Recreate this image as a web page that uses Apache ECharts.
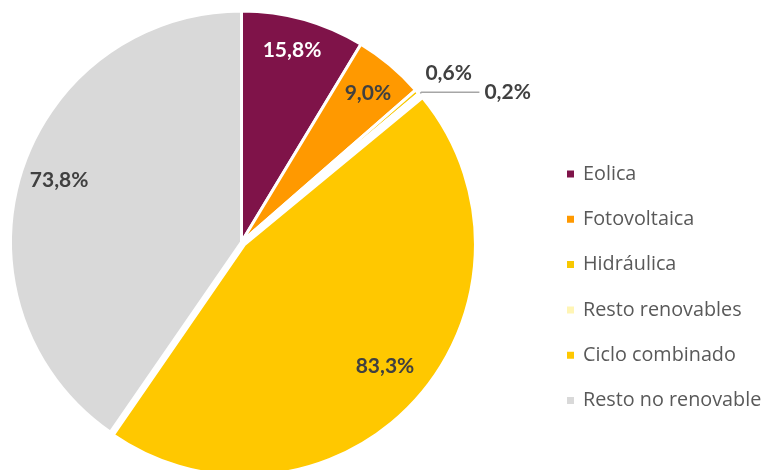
<!DOCTYPE html>
<html>
<head>
<meta charset="utf-8">
<script src="https://cdn.jsdelivr.net/npm/echarts@6/dist/echarts.min.js"></script>
<style>
html,body{margin:0;padding:0;background:#fff;}
#c{width:762px;height:470px;}
</style>
</head>
<body>
<div id="c"></div>
<script>
const categories = ['Eolica', 'Fotovoltaica', 'Hidráulica', 'Resto renovables', 'Ciclo combinado', 'Resto no renovable'];
const values = [15.8, 9.0, 0.6, 0.2, 83.3, 73.8];

const colors = ['#7F1349', '#FF9900', '#F8C800', '#FFF5B5', '#FFC800', '#D9D9D9'];
const labelColors = ['#ffffff', '#404040', '#404040', '#404040', '#404040', '#404040'];
const fmt = v => v.toFixed(1).replace('.', ',') + '%';

const center = [241.5, 242];
const R = 231;
const labelFont = { fontFamily: 'Lato', fontWeight: 'bold', fontSize: 21 };

const mainData = categories.map((name, i) => {
  const d = { name, value: values[i], itemStyle: { color: colors[i] }, label: { show: false } };
  if (i === 2) {
    d.label = Object.assign({ show: true, position: 'outside', color: '#404040', formatter: p => fmt(p.value) }, labelFont);
    d.labelLine = { show: false, length: 35, length2: 0 };
  }
  if (i === 3) {
    d.label = Object.assign({ show: true, position: 'outside', color: '#404040', formatter: p => fmt(p.value) }, labelFont);
    d.labelLine = { show: true, length: 3, length2: 58, lineStyle: { color: '#A6A6A6', width: 1.5 } };
  }
  if (i === 4) d.selected = true;
  return d;
});

const overlayData = categories.map((name, i) => {
  const big = (i !== 2 && i !== 3);
  const d = {
    name, value: values[i],
    itemStyle: { color: 'rgba(0,0,0,0)', borderWidth: 0 },
    label: Object.assign({ show: big, position: 'inside', color: labelColors[i], formatter: p => fmt(p.value) }, labelFont)
  };
  if (i === 4) d.selected = true;
  return d;
});

// label nudges (pixels) for the inner labels, by data index
const innerNudge = { 0: [-1, -7], 1: [3, -2], 4: [-1, -8], 5: [1, -5] };

const chart = echarts.init(document.getElementById('c'), null, { renderer: 'canvas' });
chart.setOption({
  backgroundColor: '#ffffff',
  animation: false,
  legend: {
    orient: 'vertical',
    left: 560,
    top: 159,
    data: categories,
    icon: 'rect',
    itemWidth: 9,
    itemHeight: 9,
    itemGap: 25.3,
    selectedMode: false,
    textStyle: { fontFamily: 'Open Sans', fontSize: 19.8, color: '#595959', lineHeight: 20, padding: [0, 0, 0, 3] }
  },
  series: [
    {
      type: 'pie',
      center: center,
      radius: [0, R],
      startAngle: 90,
      clockwise: true,
      selectedMode: 'single',
      selectedOffset: 4,
      avoidLabelOverlap: false,
      silent: true,
      itemStyle: { borderColor: '#ffffff', borderWidth: 3 },
      data: mainData,
      labelLayout: function (p) {
        if (p.dataIndex === 2) return { align: 'center', dy: 4 };
        return {};
      },
      z: 2
    },
    {
      type: 'pie',
      center: center,
      radius: [142, 236],
      startAngle: 90,
      clockwise: true,
      selectedMode: 'single',
      selectedOffset: 4,
      avoidLabelOverlap: false,
      silent: true,
      labelLine: { show: false },
      data: overlayData,
      labelLayout: function (p) {
        const n = innerNudge[p.dataIndex];
        return n ? { dx: n[0], dy: n[1] } : {};
      },
      z: 3
    }
  ]
});
</script>
</body>
</html>
